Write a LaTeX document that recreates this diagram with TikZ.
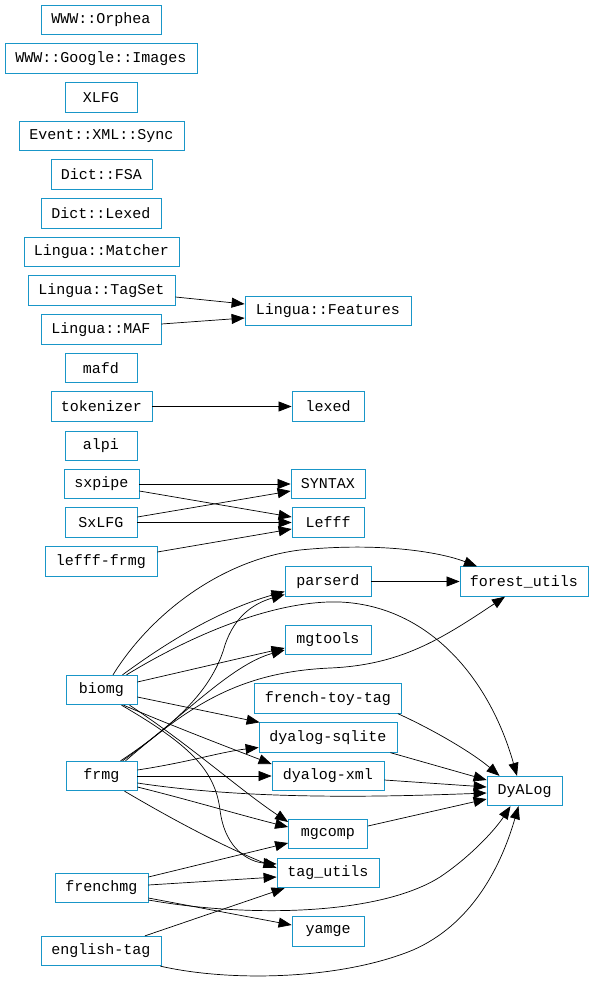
\documentclass[tikz,border=0pt]{standalone}
\usepackage{fontspec}
\setmonofont{Liberation Mono}
\usetikzlibrary{arrows.meta,calc}
\definecolor{nodeblue}{RGB}{25,150,200}
\begin{document}
\begin{tikzpicture}[x=1pt,y=-1pt,
  box/.style={draw=nodeblue, line width=0.8pt, minimum height=29.5pt, inner sep=0pt,
    font=\ttfamily\fontsize{15}{18}\selectfont},
  arr/.style={-{Triangle[length=13pt,width=10pt]}, line width=0.7pt}]
\useasboundingbox (0,0) rectangle (595,985);
% left column
\node[box, minimum width=120pt] (orphea) at (101,20) {WWW::Orphea};
\node[box, minimum width=192pt] (google) at (101,58.5) {WWW::Google::Images};
\node[box, minimum width=72pt] (xlfg) at (101,97.5) {XLFG};
\node[box, minimum width=165pt] (event) at (101.5,136) {Event::XML::Sync};
\node[box, minimum width=101pt] (fsa) at (101.5,174.5) {Dict::FSA};
\node[box, minimum width=120pt] (dlexed) at (101,213.5) {Dict::Lexed};
\node[box, minimum width=155pt] (matcher) at (101.5,252) {Lingua::Matcher};
\node[box, minimum width=147pt] (tagset) at (101.5,290.5) {Lingua::TagSet};
\node[box, minimum width=120pt] (maf) at (101,329.5) {Lingua::MAF};
\node[box, minimum width=72pt] (mafd) at (101,368) {mafd};
\node[box, minimum width=101pt] (tokenizer) at (101.5,406.5) {tokenizer};
\node[box, minimum width=72pt] (alpi) at (101,446) {alpi};
\node[box, minimum width=75pt] (sxpipe) at (101.5,484) {sxpipe};
\node[box, minimum width=72pt] (sxlfg) at (101,522.5) {SxLFG};
\node[box, minimum width=112pt] (lefffrmg) at (101,561.5) {lefff-frmg};
\node[box, minimum width=71pt] (biomg) at (101.5,690) {biomg};
\node[box, minimum width=71pt] (frmg) at (101.5,776) {frmg};
\node[box, minimum width=93pt] (frenchmg) at (101.5,888) {frenchmg};
\node[box, minimum width=120pt] (english) at (101,951) {english-tag};
% middle column
\node[box, minimum width=166pt] (features) at (328,311) {Lingua::Features};
\node[box, minimum width=72pt] (lexed) at (328,406.5) {lexed};
\node[box, minimum width=74pt] (syntax) at (328,484) {SYNTAX};
\node[box, minimum width=72pt] (lefff) at (328,522.5) {Lefff};
\node[box, minimum width=86pt] (parserd) at (328,581.5) {parserd};
\node[box, minimum width=86pt] (mgtools) at (328,640) {mgtools};
\node[box, minimum width=147pt] (frtoy) at (328,698.5) {french-toy-tag};
\node[box, minimum width=138pt] (sqlite) at (328,737.5) {dyalog-sqlite};
\node[box, minimum width=112pt] (dxml) at (328,776) {dyalog-xml};
\node[box, minimum width=79pt] (mgcomp) at (328,834) {mgcomp};
\node[box, minimum width=102pt] (tagutils) at (328,873) {tag\_utils};
\node[box, minimum width=72pt] (yamge) at (328,931.5) {yamge};
% right column
\node[box, minimum width=128pt] (forest) at (524,581.5) {forest\_utils};
\node[box, minimum width=75pt] (dyalog) at (524.5,791) {DyALog};

% upper edges
\draw[arr] ([yshift=-6.5pt]tagset.east) -- ([yshift=7pt]features.west);
\draw[arr] ([yshift=5.5pt]maf.east) -- ([yshift=-7pt]features.west);
\draw[arr] (tokenizer.east) -- (lexed.west);
\draw[arr] (sxpipe.east) -- (syntax.west);
\draw[arr] ([yshift=-7pt]sxpipe.east) -- ([yshift=5.5pt]lefff.west);
\draw[arr] ([yshift=5.5pt]sxlfg.east) -- ([yshift=-7pt]syntax.west);
\draw[arr] (sxlfg.east) -- (lefff.west);
\draw[arr] ([yshift=9.5pt]lefffrmg.east) -- ([yshift=-6.5pt]lefff.west);
\draw[arr] (parserd.east) -- (forest.west);

% biomg
\draw[arr] ([xshift=11.5pt]biomg.north) .. controls (150,615) and (220,560) .. (300,550)
  .. controls (380,542) and (440,552) .. ([xshift=-47pt]forest.north);
\draw[arr] ([xshift=21pt]biomg.north) .. controls (170,640) and (220,610) .. ([yshift=-10pt]parserd.west);
\draw[arr] ([xshift=25pt]biomg.north) .. controls (200,630) and (280,600) .. (340,602)
  .. controls (430,606) and (490,680) .. ([xshift=-7.5pt]dyalog.north);
\draw[arr] ([yshift=8pt]biomg.east) -- ([yshift=-8pt]mgtools.west);
\draw[arr] ([yshift=-7pt]biomg.east) -- ([xshift=1pt]sqlite.north west);
\draw[arr] ([xshift=22pt]biomg.south) .. controls (170,725) and (230,748) .. ([yshift=12pt]dxml.west);
\draw[arr] ([xshift=28pt]biomg.south) .. controls (190,745) and (240,790) .. ([yshift=12pt]mgcomp.west);
\draw[arr] ([xshift=20pt]biomg.south) .. controls (190,745) and (215,770) .. (220,810)
  .. controls (225,850) and (250,862) .. ([yshift=9pt]tagutils.west);

% frmg
\draw[arr] ([xshift=19pt]frmg.north) .. controls (190,715) and (215,680) .. (225,645)
  .. controls (235,615) and (255,603) .. ([yshift=-13pt]parserd.west);
\draw[arr] ([xshift=21pt]frmg.north) .. controls (180,720) and (230,665) .. ([yshift=-10pt]mgtools.west);
\draw[arr] ([xshift=24pt]frmg.north) .. controls (190,705) and (240,672) .. (330,668)
  .. controls (400,665) and (440,640) .. ([xshift=-19pt]forest.south);
\draw[arr] ([yshift=6pt]frmg.east) .. controls (190,762) and (220,752) .. ([yshift=-10pt]sqlite.west);
\draw[arr] (frmg.east) -- (dxml.west);
\draw[arr] ([yshift=-7pt]frmg.east) .. controls (250,800) and (380,797) .. ([yshift=-2pt]dyalog.west);
\draw[arr] ([yshift=-11pt]frmg.east) .. controls (190,800) and (240,815) .. ([yshift=7pt]mgcomp.west);
\draw[arr] ([xshift=23pt]frmg.south) .. controls (170,818) and (220,845) .. ([yshift=5pt]tagutils.west);

% to DyALog
\draw[arr] ([xshift=-4pt]frtoy.south east) .. controls (440,733) and (475,755) .. ([xshift=-25pt]dyalog.north);
\draw[arr] ([xshift=-7pt]sqlite.south east) -- ([yshift=11pt]dyalog.west);
\draw[arr] ([yshift=-4pt]dxml.east) -- ([yshift=4pt]dyalog.west);
\draw[arr] ([yshift=8pt]mgcomp.east) -- ([yshift=-8pt]dyalog.west);

% frenchmg
\draw[arr] ([yshift=11pt]frenchmg.east) -- ([yshift=-9pt]mgcomp.west);
\draw[arr] ([yshift=3pt]frenchmg.east) -- ([yshift=-4pt]tagutils.west);
\draw[arr] ([yshift=-10pt]frenchmg.east) -- ([yshift=6.5pt]yamge.west);
\draw[arr] ([yshift=-12pt]frenchmg.east) .. controls (250,918) and (380,915) .. (440,877)
  .. controls (470,857) and (495,830) .. ([xshift=-14pt]dyalog.south);

% english-tag
\draw[arr] ([xshift=44pt]english.north) -- ([xshift=8pt]tagutils.south west);
\draw[arr] ([xshift=-1pt]english.south east) .. controls (230,982) and (340,980) .. (413,950)
  .. controls (470,925) and (500,870) .. ([xshift=-6pt]dyalog.south);
\end{tikzpicture}
\end{document}
